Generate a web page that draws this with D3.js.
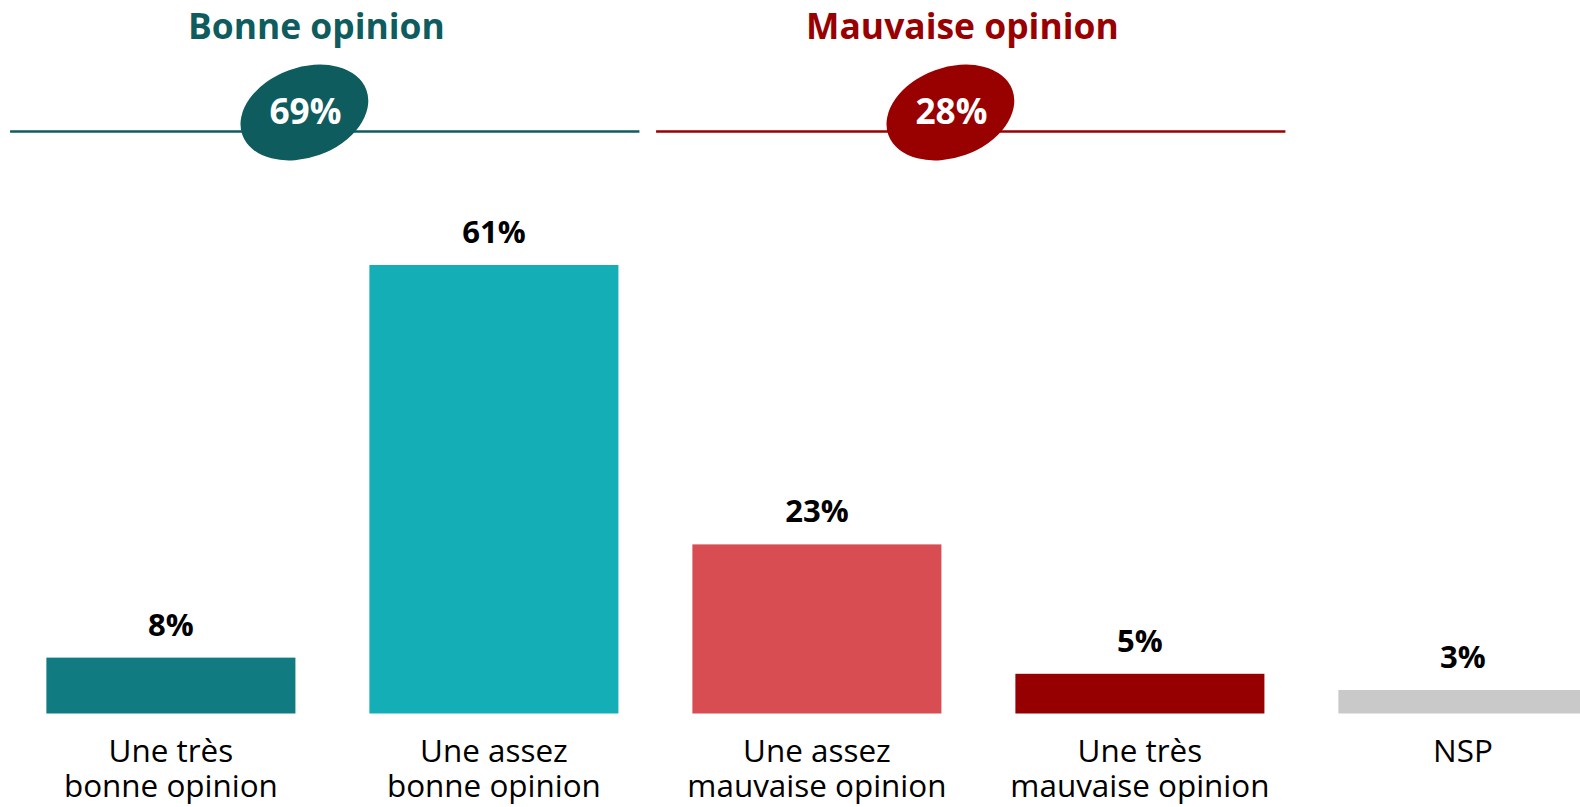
<!DOCTYPE html>
<html><head><meta charset="utf-8">
<script src="https://cdn.jsdelivr.net/npm/d3@7"></script>
<style>html,body{margin:0;padding:0;background:#fff;overflow:hidden}</style>
</head><body>
<svg id="chart" width="1580" height="807"></svg>
<script>
// ---- data ----
const categories = ["Une très bonne opinion", "Une assez bonne opinion", "Une assez mauvaise opinion", "Une très mauvaise opinion", "NSP"];
const categoryLines = [["Une très", "bonne opinion"], ["Une assez", "bonne opinion"], ["Une assez", "mauvaise opinion"], ["Une très", "mauvaise opinion"], ["NSP"]];
const values = [7.6, 61, 23, 5.4, 3.2];          // bar heights
const valueLabels = ["8%", "61%", "23%", "5%", "3%"];
const barColors = ["#107b81", "#14afb6", "#d74d51", "#960000", "#c9c9c9"];
const groupNames = ["Bonne opinion", "Mauvaise opinion"];
const groupTotals = ["69%", "28%"];
const groupMembers = [[0, 1], [2, 3]];
const groupColors = ["#0e5c5e", "#990000"];

// ---- layout ----
const FONT = "'Open Sans', 'Noto Sans', sans-serif";
const svg = d3.select("#chart");

function fitSize(text, weight, target) {
  const t = svg.append("text").attr("font-family", FONT).attr("font-weight", weight)
    .attr("font-size", 100).text(text);
  const w = t.node().getComputedTextLength();
  t.remove();
  return 100 * target / w;
}
const catSize = fitSize("bonne opinion", 400, 214);
const valSize = fitSize("61%", 700, 63.5);
const titleSize = fitSize("Bonne opinion", 700, 257);
const badgeSize = fitSize("69%", 700, 72);

const x = d3.scaleBand().domain(categories).range([9.4, 9.4 + 5 * 323]).paddingInner(0.229).paddingOuter(0.1145);
const y = d3.scaleLinear().domain([0, 61]).range([713.5, 265]);
const bw = x.bandwidth();

// bars
svg.append("g").selectAll("rect").data(categories).join("rect")
  .attr("x", d => x(d)).attr("width", bw)
  .attr("y", (d, i) => y(values[i])).attr("height", (d, i) => y(0) - y(values[i]))
  .attr("fill", (d, i) => barColors[i]);

// value labels
svg.append("g").selectAll("text").data(categories).join("text")
  .attr("x", d => x(d) + bw / 2).attr("y", (d, i) => y(values[i]) - 22)
  .attr("text-anchor", "middle").attr("font-family", FONT).attr("font-weight", 700)
  .attr("font-size", valSize).attr("fill", "#000")
  .text((d, i) => valueLabels[i]);

// category labels
const cl = svg.append("g").selectAll("text").data(categories).join("text")
  .attr("text-anchor", "middle").attr("font-family", FONT).attr("font-weight", 400)
  .attr("font-size", catSize).attr("fill", "#000");
cl.each(function (d, i) {
  d3.select(this).selectAll("tspan").data(categoryLines[i]).join("tspan")
    .attr("x", x(d) + bw / 2).attr("y", (s, j) => 762 + j * 34.7).text(s => s);
});

// group headers
groupNames.forEach((name, g) => {
  const first = categories[groupMembers[g][0]];
  const last = categories[groupMembers[g][groupMembers[g].length - 1]];
  const x0 = x(first) - 36.3, x1 = x(last) + bw + 21;
  const cx = (x(first) + x(last) + bw) / 2;
  const col = groupColors[g];
  const hg = svg.append("g");
  hg.append("text").attr("x", cx - 16).attr("y", 38.5).attr("text-anchor", "middle")
    .attr("font-family", FONT).attr("font-weight", 700).attr("font-size", titleSize)
    .attr("fill", col).text(name);
  hg.append("line").attr("x1", x0).attr("x2", x1).attr("y1", 131.5).attr("y2", 131.5)
    .attr("stroke", col).attr("stroke-width", 2.6);
  const ex = cx - 28, ey = 112.5;
  hg.append("ellipse").attr("cx", 0).attr("cy", 0).attr("rx", 66).attr("ry", 45)
    .attr("transform", `translate(${ex},${ey}) rotate(-20)`).attr("fill", col);
  hg.append("text").attr("x", ex + 1).attr("y", 124).attr("text-anchor", "middle")
    .attr("font-family", FONT).attr("font-weight", 700).attr("font-size", badgeSize)
    .attr("fill", "#fff").text(groupTotals[g]);
});
</script>
</body></html>
